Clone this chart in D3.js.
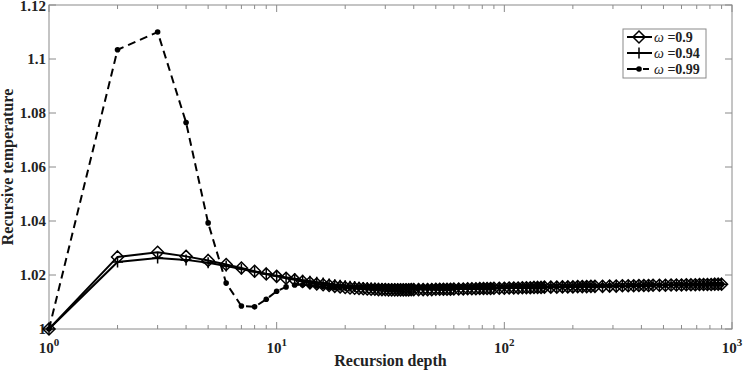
<!DOCTYPE html>
<html>
<head>
<meta charset="utf-8">
<script src="https://cdn.jsdelivr.net/npm/d3@7"></script>
<style>
  body { margin: 0; background: #fff; }
  text { font-family: "Liberation Serif", "Times New Roman", serif; font-weight: bold; }
</style>
</head>
<body>
<svg id="chart" width="743" height="374"></svg>
<script>
// recursion depths (every integer up to 40, then thinned where markers overlap anyway)
const depth = [
  1, 2, 3, 4, 5, 6, 7, 8, 9, 10,
  11, 12, 13, 14, 15, 16, 17, 18, 19, 20,
  21, 22, 23, 24, 25, 26, 27, 28, 29, 30,
  31, 32, 33, 34, 35, 36, 37, 38, 39, 40,
  42, 44, 46, 48, 50, 52, 54, 56, 58, 60,
  63, 66, 69, 72, 75, 78, 81, 84, 87, 90,
  95, 100, 105, 110, 115, 120, 125, 130, 135, 140, 145, 150,
  160, 170, 180, 190, 200, 210, 220, 230, 240, 250,
  270, 290, 310, 330, 350, 370, 390, 410, 430, 450,
  480, 510, 540, 570, 600, 630, 660, 690, 720, 750, 780, 810, 840, 870, 900
];

const temp090 = [
  1.0000, 1.0267, 1.0284, 1.0269, 1.0254, 1.0239, 1.0226, 1.0214, 1.0204, 1.0195,
  1.0188, 1.0182, 1.0176, 1.0171, 1.0167, 1.0164, 1.0161, 1.0158, 1.0156, 1.0154,
  1.0152, 1.0151, 1.0150, 1.0149, 1.0148, 1.0147, 1.0147, 1.0146, 1.0146, 1.0146,
  1.0145, 1.0145, 1.0145, 1.0145, 1.0145, 1.0145, 1.0145, 1.0145, 1.0146, 1.0146,
  1.0146, 1.0146, 1.0146, 1.0146, 1.0147, 1.0147, 1.0147, 1.0147, 1.0147, 1.0148,
  1.0148, 1.0148, 1.0149, 1.0149, 1.0149, 1.0150, 1.0150, 1.0150, 1.0150, 1.0151,
  1.0151, 1.0151, 1.0152, 1.0152, 1.0152, 1.0153, 1.0153, 1.0153, 1.0154, 1.0154, 1.0154, 1.0155,
  1.0155, 1.0155, 1.0156, 1.0156, 1.0156, 1.0157, 1.0157, 1.0157, 1.0158, 1.0158,
  1.0158, 1.0159, 1.0159, 1.0160, 1.0160, 1.0160, 1.0161, 1.0161, 1.0161, 1.0162,
  1.0162, 1.0162, 1.0163, 1.0163, 1.0163, 1.0164, 1.0164, 1.0164, 1.0165, 1.0165, 1.0165, 1.0165, 1.0166, 1.0166, 1.0166
];

const temp094 = [
  1.0000, 1.0248, 1.0263, 1.0256, 1.0245, 1.0233, 1.0222, 1.0212, 1.0204, 1.0197,
  1.0191, 1.0186, 1.0181, 1.0177, 1.0173, 1.0170, 1.0167, 1.0164, 1.0162, 1.0160,
  1.0158, 1.0157, 1.0155, 1.0154, 1.0153, 1.0152, 1.0151, 1.0151, 1.0150, 1.0150,
  1.0149, 1.0149, 1.0149, 1.0148, 1.0148, 1.0148, 1.0148, 1.0148, 1.0148, 1.0148,
  1.0148, 1.0148, 1.0148, 1.0149, 1.0149, 1.0149, 1.0149, 1.0149, 1.0150, 1.0150,
  1.0150, 1.0150, 1.0150, 1.0151, 1.0151, 1.0151, 1.0151, 1.0152, 1.0152, 1.0152,
  1.0152, 1.0153, 1.0153, 1.0153, 1.0153, 1.0154, 1.0154, 1.0154, 1.0155, 1.0155, 1.0155, 1.0155,
  1.0156, 1.0156, 1.0156, 1.0157, 1.0157, 1.0157, 1.0158, 1.0158, 1.0158, 1.0158,
  1.0159, 1.0159, 1.0160, 1.0160, 1.0160, 1.0161, 1.0161, 1.0161, 1.0162, 1.0162,
  1.0162, 1.0163, 1.0163, 1.0163, 1.0164, 1.0164, 1.0164, 1.0164, 1.0165, 1.0165, 1.0165, 1.0166, 1.0166, 1.0166, 1.0166
];

const temp099 = [
  1.0000, 1.1034, 1.1100, 1.0765, 1.0393, 1.0170, 1.0085, 1.0082, 1.0110, 1.0140,
  1.0156, 1.0163, 1.0164, 1.0162, 1.0159, 1.0157, 1.0155, 1.0154, 1.0154, 1.0154,
  1.0154, 1.0154, 1.0154, 1.0154, 1.0154, 1.0154, 1.0154, 1.0154, 1.0154, 1.0154,
  1.0154, 1.0154, 1.0154, 1.0154, 1.0154, 1.0154, 1.0154, 1.0154, 1.0154, 1.0154,
  1.0154, 1.0154, 1.0154, 1.0154, 1.0155, 1.0155, 1.0155, 1.0155, 1.0155, 1.0155,
  1.0155, 1.0155, 1.0155, 1.0155, 1.0156, 1.0156, 1.0156, 1.0156, 1.0156, 1.0156,
  1.0156, 1.0156, 1.0156, 1.0157, 1.0157, 1.0157, 1.0157, 1.0157, 1.0157, 1.0158, 1.0158, 1.0158,
  1.0158, 1.0158, 1.0159, 1.0159, 1.0159, 1.0159, 1.0160, 1.0160, 1.0160, 1.0160,
  1.0161, 1.0161, 1.0161, 1.0161, 1.0162, 1.0162, 1.0162, 1.0162, 1.0163, 1.0163,
  1.0163, 1.0163, 1.0164, 1.0164, 1.0164, 1.0164, 1.0165, 1.0165, 1.0165, 1.0165, 1.0165, 1.0166, 1.0166, 1.0166, 1.0166
];

const seriesNames = ["0.9", "0.94", "0.99"];
const yTicks = [1, 1.02, 1.04, 1.06, 1.08, 1.1, 1.12];
const yTickLabels = ["1", "1.02", "1.04", "1.06", "1.08", "1.1", "1.12"];
const xDecades = [1, 10, 100, 1000];

const svg = d3.select("#chart");
const mLeft = 49, mRight = 732, mTop = 5, mBottom = 329;
const axisColor = "#8a8a8a";

const x = d3.scaleLog().domain([1, 1000]).range([mLeft, mRight]);
const y = d3.scaleLinear().domain([1, 1.12]).range([mBottom, mTop]);

// box
svg.append("rect")
  .attr("x", mLeft).attr("y", mTop)
  .attr("width", mRight - mLeft).attr("height", mBottom - mTop)
  .attr("fill", "none").attr("stroke", axisColor).attr("stroke-width", 1);

// log ticks, drawn inward on all four sides
const minor = [];
xDecades.slice(0, -1).forEach(d => { for (let k = 2; k <= 9; k++) minor.push(d * k); });
const allX = minor.concat(xDecades);

const tickG = svg.append("g").attr("stroke", axisColor);
tickG.selectAll(".xb").data(allX).join("line").attr("class", "xb")
  .attr("x1", d => x(d)).attr("x2", d => x(d))
  .attr("y1", mBottom).attr("y2", d => mBottom - (xDecades.includes(d) ? 7 : 4));
tickG.selectAll(".xt").data(allX).join("line").attr("class", "xt")
  .attr("x1", d => x(d)).attr("x2", d => x(d))
  .attr("y1", mTop).attr("y2", d => mTop + (xDecades.includes(d) ? 7 : 4));
tickG.selectAll(".yl").data(yTicks).join("line").attr("class", "yl")
  .attr("x1", mLeft).attr("x2", mLeft + 7)
  .attr("y1", d => y(d)).attr("y2", d => y(d));
tickG.selectAll(".yr").data(yTicks).join("line").attr("class", "yr")
  .attr("x1", mRight).attr("x2", mRight - 7)
  .attr("y1", d => y(d)).attr("y2", d => y(d));

// tick labels
svg.append("g").selectAll("text").data(yTicks).join("text")
  .attr("x", mLeft - 3).attr("y", d => Math.max(y(d) + 5, 11))
  .attr("text-anchor", "end").attr("font-size", 15).attr("fill", "#222")
  .text((d, i) => yTickLabels[i]);

const xl = svg.append("g").selectAll("text").data(xDecades).join("text")
  .attr("x", d => x(d)).attr("y", 353)
  .attr("text-anchor", "middle").attr("font-size", 15).attr("fill", "#222");
xl.append("tspan").text("10");
xl.append("tspan").attr("dy", -7).attr("font-size", 11).text(d => Math.round(Math.log10(d)));

// axis titles
svg.append("text").attr("x", (mLeft + mRight) / 2).attr("y", 366)
  .attr("text-anchor", "middle").attr("font-size", 16).attr("fill", "#222")
  .text("Recursion depth");
svg.append("text")
  .attr("transform", `translate(13,${(mTop + mBottom) / 2}) rotate(-90)`)
  .attr("text-anchor", "middle").attr("font-size", 16).attr("fill", "#222")
  .text("Recursive temperature");

// markers
const diamond = "M0,-6L6,0L0,6L-6,0Z";
const plus = "M-5.5,0H5.5M0,-5.5V5.5";

const series = [
  { vals: temp090, dash: null, marker: "diamond" },
  { vals: temp094, dash: null, marker: "plus" },
  { vals: temp099, dash: "8,5", marker: "dot" }
];

const line = d3.line().x(d => x(d[0])).y(d => y(d[1]));
const plot = svg.append("g");

function drawMarker(g, type) {
  if (type === "diamond") g.append("path").attr("d", diamond).attr("fill", "none").attr("stroke", "#000").attr("stroke-width", 1.5);
  else if (type === "plus") g.append("path").attr("d", plus).attr("fill", "none").attr("stroke", "#000").attr("stroke-width", 1.5);
  else g.append("circle").attr("r", 2.8).attr("fill", "#000");
}

series.forEach(s => {
  const pts = depth.map((d, i) => [d, s.vals[i]]);
  plot.append("path").datum(pts).attr("d", line)
    .attr("fill", "none").attr("stroke", "#000").attr("stroke-width", 2)
    .attr("stroke-dasharray", s.dash);
  const mg = plot.append("g");
  pts.forEach(p => {
    const m = mg.append("g").attr("transform", `translate(${x(p[0])},${y(p[1])})`);
    drawMarker(m, s.marker);
  });
});

// legend
const lg = svg.append("g").attr("transform", "translate(623,29)");
lg.append("rect").attr("width", 83).attr("height", 49)
  .attr("fill", "#fff").attr("stroke", axisColor);
seriesNames.forEach((name, i) => {
  const row = lg.append("g").attr("transform", `translate(0,${8 + i * 16})`);
  row.append("line").attr("x1", 4).attr("x2", 29).attr("y1", 0).attr("y2", 0)
    .attr("stroke", "#000").attr("stroke-width", 2)
    .attr("stroke-dasharray", series[i].dash ? "12,4,6,20" : null);
  const m = row.append("g").attr("transform", "translate(16,0)");
  drawMarker(m, series[i].marker);
  const t = row.append("text").attr("x", 31).attr("y", 5).attr("font-size", 14).attr("fill", "#222");
  t.append("tspan").attr("font-style", "italic").attr("font-weight", "normal").text("ω");
  t.append("tspan").text(" =" + name);
});
</script>
</body>
</html>
